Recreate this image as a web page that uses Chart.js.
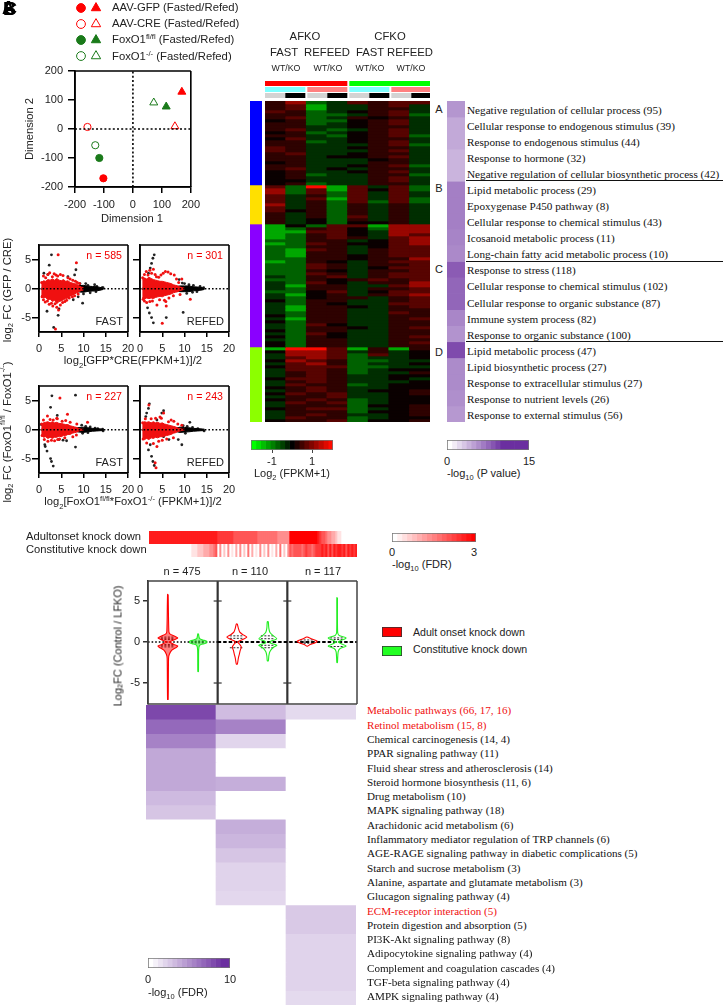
<!DOCTYPE html>
<html><head><meta charset="utf-8">
<script src="https://cdn.jsdelivr.net/npm/chart.js@4"></script>
<style>
html,body{margin:0;padding:0;background:#fff;width:725px;height:1006px;overflow:hidden}
#page{position:relative;width:725px;height:1006px;overflow:hidden}
canvas{position:absolute;z-index:1}
.t{position:absolute;z-index:2;white-space:nowrap;color:#222;font-family:"Liberation Sans",sans-serif;line-height:1}
sub,sup{font-size:.68em;line-height:0}
</style></head><body><div id="page"></div>
<script>
/* ---------- DATA ---------- */
const pcaNames=["AAV-GFP Fasted","AAV-GFP Refed","AAV-CRE Fasted","AAV-CRE Refed","FoxO1 fl/fl Fasted","FoxO1 fl/fl Refed","FoxO1 -/- Fasted","FoxO1 -/- Refed"];
const pcaDim1=[-102,169,-157,145,-116,115,-130,72];
const pcaDim2=[-170,128,7,9,-100,77,-56,91];
const pcaColors=["#ff0000","#ff0000","#ff0000","#ff0000","#1a7a1a","#1a7a1a","#1a7a1a","#1a7a1a"];
const pcaFilled=[true,true,false,false,true,true,false,false];
const pcaStyles=["circle","triangle","circle","triangle","circle","triangle","circle","triangle"];
const legendLabels=["AAV-GFP (Fasted/Refed)","AAV-CRE (Fasted/Refed)","FoxO1<sup>fl/fl</sup> (Fasted/Refed)","FoxO1<sup>-/-</sup> (Fasted/Refed)"];

const bandX=[0.5,1,1.5,2,2.5,3,3.5,4,4.5,5,5.5,6,6.5,7,7.5,8,8.5,9,9.5,10];
const ma1RedHi=[1.0,1.4,1.3,1.6,1.5,1.7,1.5,1.8,1.5,1.4,1.6,1.3,1.4,1.1,1.0,.9,.8,.5,.3,.2];
const ma1RedLo=[-1.1,-1.6,-1.5,-1.9,-1.8,-2.2,-2.0,-2.6,-2.2,-2.1,-1.9,-1.7,-1.6,-1.3,-1.1,-.9,-.7,-.5,-.3,-.2];
const ma2RedHi=[1.5,1.9,1.7,2.0,1.8,1.6,1.5,1.4,1.3,1.3,1.2,1.1,1.0,.9,.7,.6,.5,.3,.2,.1];
const ma2RedLo=[-1.5,-1.8,-1.6,-1.7,-1.6,-1.7,-1.5,-1.4,-1.3,-1.4,-1.2,-1.1,-1.0,-.9,-.7,-.6,-.5,-.3,-.2,-.1];
const ma3RedHi=[.9,1.2,1.3,1.4,1.2,1.4,1.2,1.3,1.1,1.1,1.0,.9,.9,.7,.6,.5,.4,.2,.1,.1];
const ma3RedLo=[-.9,-1.3,-1.2,-1.5,-1.3,-1.5,-1.3,-1.3,-1.1,-1.2,-1.0,-1.0,-.8,-.8,-.6,-.5,-.4,-.2,-.1,-.1];
const ma4RedHi=[1.2,1.4,1.3,1.4,1.2,1.4,1.2,1.3,1.1,1.2,1.0,.9,.8,.7,.6,.5,.3,.2,.1,.1];
const ma4RedLo=[-1.5,-1.7,-1.5,-1.7,-1.4,-1.5,-1.3,-1.4,-1.2,-1.2,-1.1,-1.0,-.9,-.8,-.6,-.5,-.3,-.2,-.1,-.1];
const coreX=[.5,2,4,6,8,9,10,11,12,13,14,14.5];
const ma1CoreHi=[.12,.15,.2,.2,.3,.55,.6,.45,.4,.35,.2,.1];
const ma2CoreHi=[.12,.15,.2,.25,.35,.5,.5,.5,.35,.3,.2,.1];
const ma3CoreHi=[.1,.15,.15,.2,.25,.4,.45,.35,.25,.2,.15,.1];
const ma4CoreHi=[.1,.15,.15,.2,.3,.45,.4,.35,.25,.2,.15,.1];
const ma1Red=[[1,2.2],[1.5,1.9],[2,2.5],[2.4,2.8],[3,2.1],[3.4,2.6],[3.8,2.4],[4.3,5.9],[4.2,2.2],[4.8,2.5],[5.4,2.3],[6.5,1.9],[7,1.7],[7.6,1.5],[8.4,4.5],[8.2,1.3],[8.6,1.1],[9.1,.9],[1,-1.9],[1.4,-2.3],[1.9,-2.1],[2.3,-2.7],[2.8,-2.5],[3.1,-3],[3.6,-2.6],[4,-3.2],[4.4,-3.7],[4.8,-2.8],[5.3,-2.4],[5.8,-2.2],[6.2,-2],[6.8,-1.6],[7.5,-1.4],[8,-1.2],[8.8,-.9],[3.7,-7],[.6,1.1],[.7,-1.4]];
const ma1Black=[[2.8,5.9],[2.3,4.1],[1.1,2.7],[2,2.5],[6.5,2.1],[8.3,3.3],[8,2.4],[1.8,-3.9],[4.3,-4.6],[4.5,-3.5],[3.3,-6.7],[9.8,-2.5],[7.7,-1.9],[8.8,-1.4],[10.5,.9],[11,.6],[12.5,.7],[12.8,-.5],[13,.4],[14.2,.2],[14.4,.2],[10,-.9],[11.5,-.7],[9.2,.9]];
const ma2Red=[[1,2.5],[1.4,3],[1.8,2.4],[2.2,3.2],[2.6,2.7],[3,3.4],[3.4,2.5],[3.7,2.1],[4.2,2],[4.7,2.4],[5.2,2.7],[5.7,3],[6.3,2.9],[6.9,2.6],[7.7,2.4],[8.2,1.7],[9.4,1.7],[8.7,1.1],[1,-2.1],[1.5,-2.4],[2.2,-2.2],[2.8,-2.1],[3.8,-2.8],[4.4,-1.9],[5,-6],[5.5,-2],[5.9,-3],[5.8,-2.2],[6.5,-1.6],[7.5,-1.2],[9,-1],[11.3,-1.8],[.6,1.9],[.7,-1.8]];
const ma2Black=[[3.2,5.9],[2.9,5.3],[2.6,4.4],[2.3,3.6],[1.9,2.7],[1.7,-3.3],[2.1,-4.2],[2.6,-5],[3,-5.9],[5.9,-5],[9.7,-4.1],[9.5,1],[10,.9],[11,.7],[12,.6],[12.8,-.5],[13.5,.4],[14.3,.2],[10.5,-.8],[11.8,-.6],[8.8,1.6]];
const ma3Red=[[1,1.7],[1.9,2.4],[2.5,1.8],[3.2,1.7],[4,2],[4.1,1.9],[4.7,5.5],[5.2,1.5],[6.4,2.7],[6,1.6],[7,1.3],[8.5,1],[10.9,1.3],[1.2,-1.7],[2,-2],[2.8,-1.8],[3.5,-1.9],[4.2,-1.7],[4.6,-1.6],[5.8,-1.4],[7.6,-1.2],[8.4,-.9],[.6,1],[.7,-1]];
const ma3Black=[[2.9,5.9],[8.2,6],[2.6,3.9],[4.1,2.5],[1.3,-2.6],[1.4,-2.9],[1.8,-3.7],[2.6,-5],[2.8,-5.5],[3.2,-6.3],[8.2,-3],[4.5,-1.7],[.5,.9],[5.4,-1.8],[6.2,-1.9],[9.6,.8],[10.5,.6],[11.5,.5],[12.6,.3],[13.2,.2],[14.3,.1],[9.8,-.6],[11,-.5],[14.4,-.2]];
const ma4Red=[[2,4.3],[1.2,1.9],[2.5,1.9],[3.5,2],[4.5,2.2],[5.3,2.9],[6.4,1.4],[4.8,2],[7,1.7],[7.6,1.5],[8.5,1],[9.4,.8],[1.5,-2.3],[3.8,-2.9],[3.6,-6.6],[3.4,-5.7],[3,-2.4],[4.2,-2],[5,-1.8],[7.5,-1.4],[6,-1.6],[.6,1.2],[.7,-1.6]];
const ma4Black=[[2.1,4.5],[1.9,3.7],[1.5,2.9],[1.3,2.3],[4.9,2.9],[5.3,3.3],[3.8,1.7],[11.2,1.3],[9.4,-2.6],[2.3,-2.6],[1.9,-3.5],[2.6,-4.6],[2.9,-5.5],[3.2,-6.2],[5.3,-1.2],[8.6,-1.7],[9.7,.7],[10.6,.6],[11.8,.4],[13,.2],[14.4,-.2],[10.2,-.6],[6.5,-1.7]];
const maN=["n = 585","n = 301","n = 227","n = 243"];
const maYTicks=[-5,0,5];

const heatRowsA=["57236566","56133563","56133553","65234563","55223562","56235453","45224563","55234563","55334553","56323563","45234563","55324562","46334553","55234563","55333562","65334553","65333563","56334553","55344563","55333453","45333553","55334562","56343553","45334563","45233552","45333563","44333563","45233553"];
const heatRowsB=["62816362","72616462","72626363","63526363","63616362","63526262","73525353","63525353","64525353","53525353","53526353","53425353","53424453"];
const heatRowsC=["14266177","12564277","11664377","12564376","12565367","22553467","12654467","22553466","21653566","21553566","21554566","22554557","12543566","22653556","22653466","22543556","22653566","32563566","22545656","32643557","31553367","32553556","22463466","31453567","32455356","42553356","32543366","31554356","31553355","32553365","42553355","31553356","42553355","32643355","32554356","42553355","32643355","42543356","32553355","42553356","42553355"];
const heatRowsD=["18861515","47763534","37762634","36762334","47652233","36752334","46662233","36652344","35652335","35653344","46653343","35653334","36552344","45653344","35653445","46563345","35563344","45652344","36562344","35552445","45662345","35552445","35653345","36552344","45562445"];
const heatLevels=[1,.66,.38,.18,.04,.18,.34,.6,1];
const clusterColors=["#0000ff","#ffe000","#8a00ff","#8cff00"];

const goTerms=["Negative regulation of cellular process (95)","Cellular response to endogenous stimulus (39)","Response to endogenous stimulus (44)","Response to hormone (32)","Negative regulation of cellular biosynthetic process (42)","Lipid metabolic process (29)","Epoxygenase P450 pathway (8)","Cellular response to chemical stimulus (43)","Icosanoid metabolic process (11)","Long-chain fatty acid metabolic process (10)","Response to stress (118)","Cellular response to chemical stimulus (102)","Cellular response to organic substance (87)","Immune system process (82)","Response to organic substance (100)","Lipid metabolic process (47)","Lipid biosynthetic process (27)","Response to extracellular stimulus (27)","Response to nutrient levels (26)","Response to external stimulus (56)"];
const goLogP=[7.6,6.2,6.2,5.4,5.4,9.2,9.2,9.2,8.9,8.5,11.8,11,11,8.7,7.8,13,8.4,8.4,8.1,7.4];

const adultFdr="8888888888888888888888888888888888"+"777777776666666666665555555555444444"+"99999999999999"+"876654433211"+"00000000";
const constFdr="00000000000000000000"+"01112223334456"+"040204010304020503010402040103050204"+"65666656766567"+"77878686878878687878";

const violinN=["n = 475","n = 110","n = 117"];
const violinCenters=[.57,1.44,2.55,3.44,4.57,5.43];
const violinColors=["#ff0000","#22ee22","#ff0000","#22ee22","#ff0000","#22ee22"];
const violinFills=["rgba(255,0,0,.5)","rgba(34,238,34,.5)","rgba(255,255,255,0)","rgba(255,255,255,0)","rgba(255,255,255,0)","rgba(255,255,255,0)"];
const violinY=[
 [5.8,1.3,1,.7,.5,.3,.1,0,-.1,-.3,-.5,-.7,-1,-1.5,-2,-7],
 [1,.4,.2,.1,-.1,-.2,-.4,-1,-3.6],
 [2.2,1.7,1.2,.9,.6,.3,0,-.3,-.6,-1,-1.5,-2,-2.7],
 [2.5,1.7,1.2,.8,.4,.1,-.1,-.4,-.7,-1.2,-1.7,-2.3],
 [.6,.4,.1,-.1,-.3,-.5],
 [5.4,1.2,.8,.5,.2,0,-.2,-.5,-.8,-1.2,-2.5]];
const violinDensity=[
 [.3,1,2,7,10,7,3,1,3,6,10,8,4,1.5,.7,.3],
 [.3,1.5,6,8.5,8.5,6,1.5,.5,.3],
 [.5,1.5,3,6,10,6,1,3,4.5,3.5,2.5,1.5,.5],
 [.5,1,2,5,9,3,2,9,5,2,1,.5],
 [.5,4,10,8,3,.5],
 [.3,.5,2,9,4,1,4,9,3,1,.3]];
const violinQuart=[[.6,.45,.3,-.3,-.45,-.6],[.12,0,-.12],[.75,.45,-.7],[.75,.4,-.4,-.7],[.25,0,-.15],[.5,.3,-.55]];
const violinLegend=["Adult onset knock down","Constitutive knock down"];

const pathNames=["Metabolic pathways (66, 17, 16)","Retinol metabolism (15, 8)","Chemical carcinogenesis (14, 4)","PPAR signaling pathway (11)","Fluid shear stress and atherosclerosis (14)","Steroid hormone biosynthesis (11, 6)","Drug metabolism (10)","MAPK signaling pathway (18)","Arachidonic acid metabolism (6)","Inflammatory mediator regulation of TRP channels (6)","AGE-RAGE signaling pathway in diabetic complications (5)","Starch and sucrose metabolism (3)","Alanine, aspartate and glutamate metabolism (3)","Glucagon signaling pathway (4)","ECM-receptor interaction (5)","Protein digestion and absorption (5)","PI3K-Akt signaling pathway (8)","Adipocytokine signaling pathway (4)","Complement and coagulation cascades (4)","TGF-beta signaling pathway (4)","AMPK signaling pathway (4)"];
const pathRed=[0,1,14];
const pathAdult=[8.8,7.2,6,4.2,4.2,4.2,3.3,2.8,0,0,0,0,0,0,0,0,0,0,0,0,0];
const pathMid=[3.2,6,2,0,0,3.9,0,0,3.9,3.5,2.8,2.1,2.1,1.9,0,0,0,0,0,0,0];
const pathConst=[1.8,0,0,0,0,0,0,0,0,0,0,0,0,0,2.6,2.6,2.1,2.1,2.1,2.1,1.8];
const rampSteps=[0,1,2,3,4,5,6,7,8,9,10,11,12,13,14,15,16];

/* ---------- HELPERS ---------- */
const SANS='"Liberation Sans",sans-serif', SERIF='"Liberation Serif",serif';
const page=document.getElementById('page');
Chart.defaults.animation=false; Chart.defaults.responsive=false; Chart.defaults.maintainAspectRatio=false;
Chart.defaults.layout.autoPadding=false;
Chart.defaults.font.family=SANS; Chart.defaults.color='#222';
Chart.defaults.plugins.legend.display=false; Chart.defaults.plugins.tooltip.enabled=false;
Chart.register({id:'frame',afterDatasetsDraw(c,a,o){ if(!o.color) return; const {left:l,right:r,top:t,bottom:b}=c.chartArea,x=c.ctx;
  x.save();x.strokeStyle=o.color;x.lineWidth=o.width||1;x.beginPath();
  const s=o.sides||'ltrb';
  if(s.includes('t')){x.moveTo(l,t);x.lineTo(r,t);} if(s.includes('r')){x.moveTo(r,t);x.lineTo(r,b);}
  if(s.includes('b')){x.moveTo(l,b);x.lineTo(r,b);} if(s.includes('l')){x.moveTo(l,t);x.lineTo(l,b);}
  x.stroke();x.restore();}});
function T(html,x,y,o={}){const d=document.createElement('div');d.className='t';d.innerHTML=html;
  const a=o.align||'left';const tx=a==='center'?'-50%':a==='right'?'-100%':'0';
  d.style.left=x+'px';d.style.top=y+'px';d.style.fontSize=(o.size||11)+'px';
  if(o.font)d.style.fontFamily=o.font; if(o.color)d.style.color=o.color;
  if(o.rot){d.style.writingMode='vertical-rl';d.style.transform='translate(-50%,-50%) rotate(180deg)';}
  else d.style.transform=`translate(${tx},-50%)`;
  page.appendChild(d);return d;}
function mk(x,y,w,h,cfg,bg){const c=document.createElement('canvas');c.width=w;c.height=h;c.style.left=x+'px';c.style.top=y+'px';c.style.width=w+'px';c.style.height=h+'px';
  if(bg)c.style.background=bg;page.appendChild(c);return new Chart(c,cfg);}
function lerp(v,vmax,top){const t=Math.max(0,Math.min(1,v/vmax));const n=[255,255,255].map((w,i)=>Math.round(w+(top[i]-w)*t));return `rgb(${n[0]},${n[1]},${n[2]})`;}
const purple=[107,47,160];
function hStrip(x,y,w,h,widths,colors,frame){
  const sum=widths.reduce((a,b)=>a+b,0);
  return mk(x,y,w,h,{type:'bar',data:{labels:['s'],datasets:widths.map((v,i)=>({data:[v],backgroundColor:colors[i],barPercentage:1,categoryPercentage:1,borderWidth:0}))},
   options:{indexAxis:'y',layout:{padding:0},scales:{x:{display:false,stacked:true,min:0,max:sum},y:{display:false,stacked:true}},plugins:{frame:frame?{color:frame,width:1.5}:{}}}});}
function grid(x,y,w,h,rows,colorFn,bg){
  const labels=rows[0].map((_,i)=>'c'+i);
  return mk(x,y,w,h,{type:'bar',data:{labels,datasets:rows.map(r=>({data:r.map(()=>1),backgroundColor:r.map(colorFn),barPercentage:1,categoryPercentage:1,borderWidth:0}))},
   options:{layout:{padding:0},scales:{x:{display:false,stacked:true},y:{display:false,stacked:true,min:0,max:rows.length,reverse:true}}}},bg);}
function cart(box,m,datasets,xs,ys,frame){
  const [x,y,w,h]=box;
  const hiddenX=xs.display===false;
  if(!hiddenX) xs.afterFit=s=>{s.height=m.b};
  ys.afterFit=s=>{s.width=m.l};
  return mk(x-m.l,y-m.t,w+m.l+m.r,h+m.t+m.b,{type:'scatter',data:{datasets},
    options:{layout:{padding:{top:m.t,right:m.r,left:0,bottom:hiddenX?m.b:0}},scales:{x:xs,y:ys},plugins:{frame}}});}
function axis(min,max,step,o={}){return {type:'linear',min,max,ticks:{stepSize:step,font:{size:o.size||11},color:'#222',padding:o.pad??2,autoSkip:false,maxRotation:0,display:o.labels!==false,callback:v=>v},
   grid:{drawOnChartArea:false,drawTicks:true,tickLength:o.len||5,color:'#000',lineWidth:1.5},border:{color:'#000',width:1.5},
   afterBuildTicks:o.only?(s=>{s.ticks=o.only.map(value=>({value}));}):undefined};}
function pts(a){return a.map(p=>({x:p[0],y:p[1]}));}

/* ---------- PANEL LETTERS ---------- */
['A','B','C'].forEach((l,i)=>T(l,[2,3,4][i],8+i*0.5,{size:18,color:'#000'}).style.fontWeight='700');

/* ---------- PCA ---------- */
const pcaSets=pcaNames.map((n,i)=>({label:n,data:[{x:pcaDim1[i],y:pcaDim2[i]}],pointStyle:pcaStyles[i],pointRadius:pcaStyles[i]==='circle'?3.6:4.6,
   pointBackgroundColor:pcaFilled[i]?pcaColors[i]:'rgba(255,255,255,0)',pointBorderColor:pcaColors[i],pointBorderWidth:1}));
const dots=(d)=>({data:d,showLine:true,pointRadius:0,borderColor:'#000',borderWidth:1.6,borderDash:[2,2.2]});
cart([75,71,116,116],{l:45,t:14,r:14,b:30},[dots([{x:-200,y:0},{x:200,y:0}]),dots([{x:0,y:-200},{x:0,y:200}]),...pcaSets],
   axis(-200,200,100,{len:6,pad:5}),axis(-200,200,100,{len:7,pad:5}),{color:'#000',width:1.6,sides:'ltrb'});
const lgRows=[0,0,1,1,2,2,3,3];
mk(70,0,36,65,{type:'scatter',data:{datasets:pcaNames.map((n,i)=>({data:[{x:i%2,y:lgRows[i]}],pointStyle:pcaStyles[i],pointRadius:pcaStyles[i]==='circle'?4.4:5.4,
   pointBackgroundColor:pcaFilled[i]?pcaColors[i]:'rgba(255,255,255,0)',pointBorderColor:pcaColors[i],pointBorderWidth:1}))},
   options:{layout:{padding:0},scales:{x:{display:false,min:-.733,max:1.667},y:{display:false,min:-.5,max:3.56,reverse:true}}}});
legendLabels.forEach((l,i)=>T(l,112,8+i*16.2,{size:11.3}));
T('Dimension 2',30,129,{rot:-90,align:'center',size:11.2});
T('Dimension 1',132,219,{align:'center',size:11.2});

/* ---------- MA PLOTS ---------- */
function ma(box,hi,lo,core,red,black,labels,tag,n){
  const band=(xs,h,l,c)=>[{data:xs.map((x,i)=>({x,y:h[i]})),showLine:true,pointRadius:0,borderWidth:1,borderColor:c,backgroundColor:c,fill:'+1',tension:0},
                          {data:xs.map((x,i)=>({x,y:l[i]})),showLine:true,pointRadius:0,borderWidth:1,borderColor:c}];
  const ds=[{data:[{x:0,y:0},{x:20,y:0}],showLine:true,pointRadius:0,borderColor:'#000',borderWidth:1.4,borderDash:[1.6,2]},
    ...band(bandX,hi,lo,'#f01010'),...band(coreX,core,core.map(v=>-v),'#000'),
    {data:pts(red),pointRadius:1.5,pointBackgroundColor:'#f01010',pointBorderWidth:0},
    {data:pts(black),pointRadius:1.4,pointBackgroundColor:'#222',pointBorderWidth:0}];
  cart(box,{l:30,t:10,r:12,b:26},ds,axis(0,20,5,{len:5,pad:5}),axis(-7.5,7.6,5,{labels,len:7,pad:1,only:maYTicks}),{color:'#000',width:1.6,sides:'ltrb'});
  T(n,box[0]+box[2]-6,box[1]+10,{align:'right',color:'#f00000',size:10.6});
  T(tag,box[0]+box[2]-5,box[1]+box[3]-11,{align:'right',size:11});
}
ma([39,245,89,87],ma1RedHi,ma1RedLo,ma1CoreHi,ma1Red,ma1Black,true,'FAST',maN[0]);
ma([140,245,89,87],ma2RedHi,ma2RedLo,ma2CoreHi,ma2Red,ma2Black,false,'REFED',maN[1]);
ma([39,386,89,87],ma3RedHi,ma3RedLo,ma3CoreHi,ma3Red,ma3Black,true,'FAST',maN[2]);
ma([140,386,89,87],ma4RedHi,ma4RedLo,ma4CoreHi,ma4Red,ma4Black,false,'REFED',maN[3]);
T('log<sub>2</sub> FC (GFP / CRE)',8,290,{rot:-90,align:'center',size:11.3});
T('log<sub>2</sub> FC (FoxO1<sup>fl/fl</sup> / FoxO1<sup>-/-</sup>)',8,432,{rot:-90,align:'center',size:11.2});
T('log<sub>2</sub>[GFP*CRE(FPKM+1)]/2',133,361,{align:'center',size:11.3});
T('log<sub>2</sub>[FoxO1<sup>fl/fl</sup>*FoxO1<sup>-/-</sup> (FPKM+1)]/2',133,502,{align:'center',size:11.2});

/* ---------- EXPRESSION HEATMAP ---------- */
const rowsAll=[...heatRowsA,...heatRowsB,...heatRowsC,...heatRowsD].map(s=>s.split('').map(Number));
const rgLin=t=>{const v=Math.round(Math.abs(t)*255);return t>=0?`rgb(${v},${Math.round(v*.04)},0)`:`rgb(0,${v},0)`;};
const rg=d=>rgLin(heatLevels[d]*(d<4?-1:1));
grid(265,101,165,321,rowsAll,rg,'#111');
mk(250,101,12,321,{type:'bar',data:{labels:['k'],datasets:[heatRowsA,heatRowsB,heatRowsC,heatRowsD].map((r,i)=>({data:[r.length],backgroundColor:clusterColors[i],barPercentage:1,categoryPercentage:1,borderWidth:0}))},
   options:{scales:{x:{display:false,stacked:true},y:{display:false,stacked:true,min:0,max:rowsAll.length,reverse:true}}}});
hStrip(265,81,165,5,[82,2,81],['#ff0000','#ffffff','#00ff00']);
hStrip(265,87,165,5,[40,2,40,2,40,2,39],['#80ffff','#fff','#ff8080','#fff','#80ffff','#fff','#ff8080']);
hStrip(265,93,165,5,[20,20,2,20,20,2,20,20,2,20,19],['#d3d3d3','#000','#fff','#d3d3d3','#000','#fff','#d3d3d3','#000','#fff','#d3d3d3','#000']);
T('AFKO',305,37,{align:'center',size:11.3});T('CFKO',390,37,{align:'center',size:11.3});
[['FAST',284],['REFEED',327],['FAST',370],['REFEED',410]].forEach(a=>T(a[0],a[1],53,{align:'center',size:11.3}));
[286,328,370,411].forEach(x=>T('WT/KO',x,68,{align:'center',size:8.8}));
[['A',109],['B',188],['C',269],['D',352]].forEach(a=>T(a[0],439,a[1],{align:'center',size:11}));

/* colour bars */
hStrip(251,440,82,10,rampSteps.map(()=>1),rampSteps.map(v=>rgLin((v-8)/8)),'#777');
hStrip(447,440,82,10,rampSteps.map(()=>1),rampSteps.map(v=>lerp(v,11,purple)),'#777');
[272,312].forEach(x=>{const d=document.createElement('div');d.style.cssText=`position:absolute;z-index:2;left:${x}px;width:1px;top:450px;height:3px;background:#444`;page.appendChild(d);});
T('-1',272,461,{align:'center',size:11});T('1',312,461,{align:'center',size:11});
T('Log<sub>2</sub> (FPKM+1)',292,473,{align:'center',size:11});
T('0',447,461,{align:'center',size:11});T('15',529,461,{align:'center',size:11});
T('-log<sub>10</sub> (P value)',447,473,{size:11});

/* ---------- GO COLUMN ---------- */
grid(447,101,18,321,goLogP.map(v=>[v]),v=>lerp(v,15,purple));
goTerms.forEach((t,i)=>T(t,467,110.7+i*16.07,{font:SERIF,size:11.2,color:'#111'}));
[180,261,341].forEach(y=>{const d=document.createElement('div');d.style.cssText=`position:absolute;z-index:2;left:466px;width:257px;top:${y}px;height:1px;background:#111`;page.appendChild(d);});

/* ---------- FDR STRIPS ---------- */
const fdrColor=d=>lerp(d,9,[255,0,0]);
const cells=s=>s.split('').map(Number);
hStrip(149,531,208,13,cells(adultFdr).map(()=>1),cells(adultFdr).map(fdrColor));
hStrip(149,544,208,13,cells(constFdr).map(()=>1),cells(constFdr).map(fdrColor));
T('Adultonset knock down',26,537,{size:11.2});T('Constitutive knock down',26,550,{size:11.2});
hStrip(392,533,84,9,rampSteps.map(()=>1),rampSteps.map(v=>lerp(v,16,[255,0,0])),'#777');
T('0',392,552,{align:'center',size:11});T('3',474,552,{align:'center',size:11});
T('-log<sub>10</sub> (FDR)',392,564,{size:11});

/* ---------- VIOLINS ---------- */
const W=1/35;
const vio=violinY.map((ys,i)=>{const c=violinCenters[i],d=violinDensity[i];
  const right=ys.map((y,j)=>({x:c+d[j]*W,y})),left=ys.map((y,j)=>({x:c-d[j]*W,y})).reverse();
  return {data:[...right,...left,right[0]],showLine:true,pointRadius:0,borderColor:violinColors[i],borderWidth:1.1,backgroundColor:violinFills[i],fill:'shape',tension:.25};});
const quart=[];violinQuart.forEach((q,i)=>q.forEach(y=>{quart.push({data:[{x:violinCenters[i]-.2,y},{x:violinCenters[i]+.2,y}],showLine:true,pointRadius:0,borderColor:'#111',borderWidth:.9,borderDash:[2,1.5]});}));
const dividers=[2,4].map(x=>({data:[{x,y:-7.56},{x,y:7.44}],showLine:true,pointRadius:0,borderColor:'#333',borderWidth:2.2}));
const divTicks=[2,4].map(x=>({data:[{x,y:5},{x,y:-5}],pointStyle:'line',pointRadius:4,pointBorderColor:'#333',pointBorderWidth:1.2}));
const zero=[{data:[{x:0,y:0},{x:2,y:0}],showLine:true,pointRadius:0,borderColor:'#000',borderWidth:1.5,borderDash:[1.6,2]},
            {data:[{x:2,y:0},{x:6,y:0}],showLine:true,pointRadius:0,borderColor:'#000',borderWidth:1.8,borderDash:[3.5,2]}];
const vy=axis(-7.56,7.44,5,{len:5,pad:3,only:maYTicks});vy.grid.color='#333';vy.border={color:'#333',width:1.5};
const vx={display:false,type:'linear',min:0,max:6};
cart([148,581,209,123],{l:26,t:12,r:2,b:12},[...vio,...quart,...zero,...dividers,...divTicks],vx,vy,{color:'#444',width:1.5,sides:'ltrb'});
violinN.forEach((n,i)=>T(n,[182,250,323][i],571,{align:'center',size:11}));
T('Log<sub>2</sub>FC (Control / LFKO)',117.5,645.5,{rot:-90,align:'center',size:11});
hStrip(382,627,20,10,[1],['#ff0000'],'#333');hStrip(382,646,20,10,[1],['#22ff22'],'#333');
violinLegend.forEach((l,i)=>T(l,413,632+i*17,{size:10.6}));

/* ---------- PATHWAY HEAT ---------- */
grid(146,705,210,300,pathAdult.map((v,i)=>[v,pathMid[i],pathConst[i]]),v=>lerp(v,10,purple));
pathNames.forEach((t,i)=>T(t,367,711.3+i*14.3,{font:SERIF,size:11.1,color:pathRed.includes(i)?'#f01010':'#111'}));
hStrip(148,958,82,10,rampSteps.map(()=>1),rampSteps.map(v=>lerp(v,15,purple)),'#777');
T('0',148,979,{align:'center',size:11});T('10',230,979,{align:'center',size:11});
T('-log<sub>10</sub> (FDR)',148,992,{size:11});
</script></body></html>
